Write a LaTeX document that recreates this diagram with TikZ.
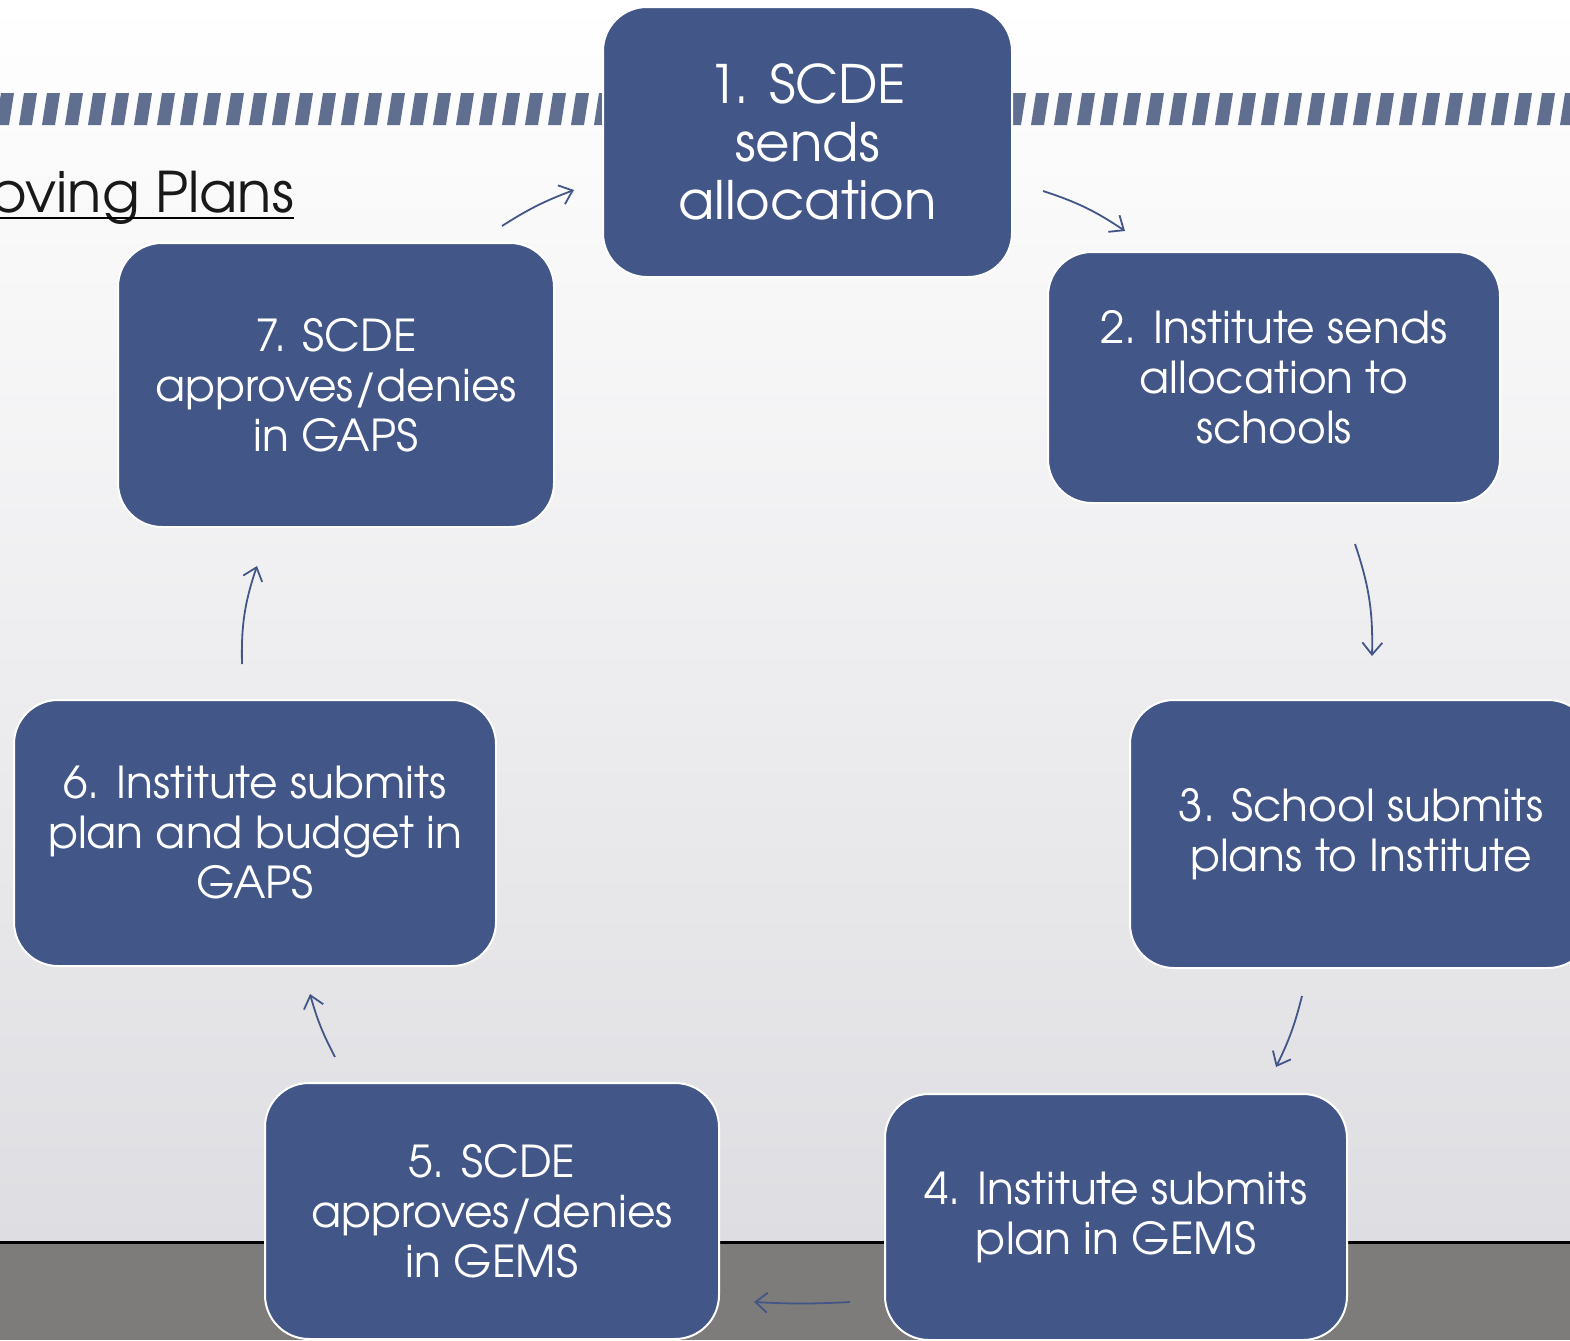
\documentclass[tikz,border=0pt]{standalone}
\usepackage{fontspec}
\setmainfont{TeX Gyre Adventor}
\usetikzlibrary{arrows.meta}
\definecolor{boxblue}{RGB}{67,86,136}
\definecolor{stripeblue}{RGB}{96,110,144}
\definecolor{floorgray}{RGB}{126,124,122}
\definecolor{wallgray}{RGB}{222,222,226}
\tikzset{
  stepnode/.style  = {shape=rectangle, rounded corners=22pt,
                      draw=white, line width=1pt, fill=boxblue,
                      text=white, align=center, inner sep=0pt,
                      font=\fontsize{22}{25}\selectfont},
  firstnode/.style = {stepnode, font=\fontsize{26.5}{29}\selectfont},
  flow/.style      = {draw=boxblue, line width=0.9pt,
                      -{Straight Barb[length=6pt,width=10pt]}}
}

\begin{document}
\begin{tikzpicture}[x=0.5pt, y=-0.5pt]
  \useasboundingbox (0,0) rectangle (1570,1340);
  \clip (0,0) rectangle (1570,1340);
  % wall, floor and the hatched rule
  \shade[top color=white, bottom color=wallgray] (0,0) rectangle (1570,1242);
  \fill[floorgray] (0,1242) rectangle (1570,1340);
  \draw[black, line width=1.5pt] (0,1242) -- (1570,1242);
  \foreach \i in {0,...,68}
    \fill[stripeblue] ({\i*23-4},125) -- ++(13,0) -- ++(5,-32) -- ++(-13,0) -- cycle;

  \node[anchor=base west, inner sep=0pt, text=black!90,
        font=\fontsize{28}{32}\selectfont] (title) at (-10,212) {oving Plans};
  \draw[line width=1.2pt] ([yshift=-3pt]title.base west) -- ([yshift=-3pt]title.base east);

  % the seven steps
  \node[firstnode, minimum width=204.5pt, minimum height=135pt] (allot) at (807.5,142)
    {1. SCDE\\sends\\allocation};
  \node[stepnode, minimum width=226pt, minimum height=125.5pt] (inst) at (1274,377.5)
    {2. Institute sends\\allocation to\\schools};
  \node[stepnode, minimum width=231pt, minimum height=134pt] (school) at (1361,834)
    {3. School submits\\plans to Institute};
  \node[stepnode, minimum width=231pt, minimum height=123pt] (gems) at (1116,1217)
    {4. Institute submits\\plan in GEMS};
  \node[stepnode, minimum width=227pt, minimum height=128pt] (gemsok) at (492,1211)
    {5. SCDE\\approves/denies\\in GEMS};
  \node[stepnode, minimum width=241pt, minimum height=133pt] (gaps) at (255,833)
    {6. Institute submits\\plan and budget in\\GAPS};
  \node[stepnode, minimum width=218pt, minimum height=142pt] (gapsok) at (336,385)
    {7. SCDE\\approves/denies\\in GAPS};

  % arrows round the cycle
  \draw[flow] ([shift={(30,49)}]allot.east)     to[bend left=8]  ([shift={(-149,-20)}]inst.north);
  \draw[flow] ([shift={(81,40)}]inst.south)     to[bend left=10] ([shift={(11,-43)}]school.north);
  \draw[flow] ([shift={(-59,27)}]school.south)  to[bend left=6]  ([shift={(160,-26)}]gems.north);
  \draw[flow] ([shift={(-34,85)}]gems.west)     to[bend left=3]  ([shift={(34,91)}]gemsok.east);
  \draw[flow] ([shift={(-157,-25)}]gemsok.north) to[bend left=6] ([shift={(55,27)}]gaps.south);
  \draw[flow] ([shift={(-13,-35)}]gaps.north)   to[bend left=10] ([shift={(-79,38)}]gapsok.south);
  \draw[flow] ([shift={(166,-16)}]gapsok.north) to[bend left=6]  ([shift={(-28,48)}]allot.west);
\end{tikzpicture}
\end{document}
